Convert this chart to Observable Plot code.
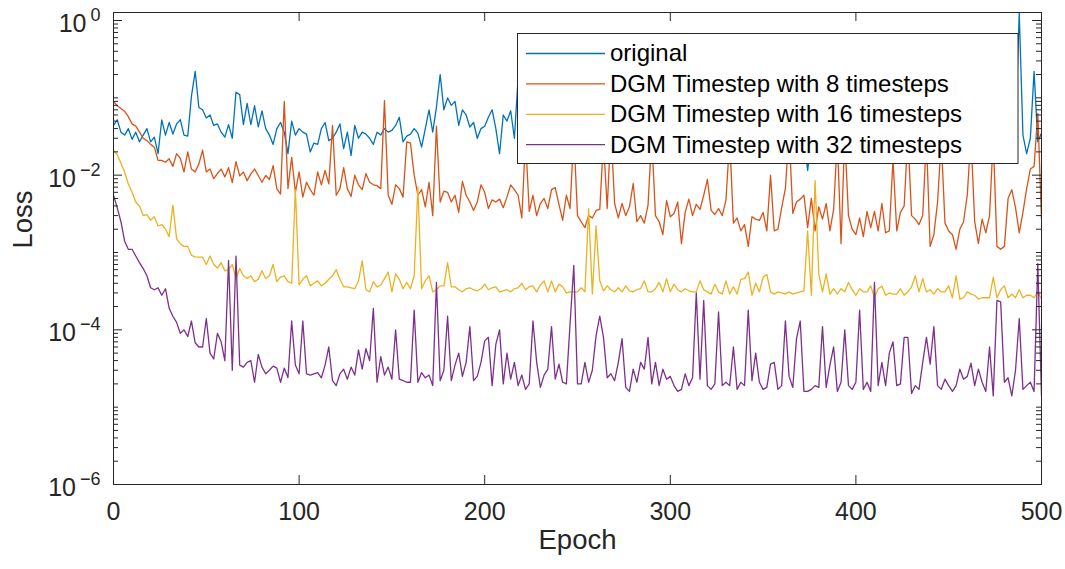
<!DOCTYPE html>
<html>
<head>
<meta charset="utf-8">
<script src="https://cdn.jsdelivr.net/npm/d3@7"></script>
<script src="https://cdn.jsdelivr.net/npm/@observablehq/plot@0.6"></script>
<style>
  html, body { margin: 0; padding: 0; background: #fff; }
  #chart { width: 1065px; height: 569px; }
</style>
</head>
<body>
<div id="chart"></div>
<script>
// ---------- data ----------
const epochs = d3.range(0, 501, 2); // 0,2,...,500

const seriesNames = [
  "original",
  "DGM Timestep with 8 timesteps",
  "DGM Timestep with 16 timesteps",
  "DGM Timestep with 32 timesteps"
];
const seriesColors = ["#0072BD", "#D95319", "#EDB120", "#7E2F8E"];

const xTickValues = [0, 100, 200, 300, 400, 500];
const yTickValues = [1e-6, 1e-4, 1e-2, 1e0];
const yTickExponents = ["\u22126", "\u22124", "\u22122", "0"];

// "original": the part hidden behind the legend box is not readable -> null
const originalLoss = [
  0.044,0.052,0.036,0.033,0.040,0.029,0.036,0.027,0.033,0.040,
  0.027,0.031,0.019,0.052,0.033,0.048,0.034,0.046,0.052,0.033,
  0.032,0.105,0.22,0.075,0.070,0.055,0.060,0.044,0.046,0.036,
  0.031,0.045,0.030,0.118,0.110,0.045,0.085,0.045,0.079,0.042,
  0.068,0.040,0.033,0.025,0.040,0.048,0.036,0.019,0.050,0.033,
  0.040,0.036,0.034,0.020,0.026,0.025,0.040,0.048,0.028,0.030,
  0.036,0.046,0.022,0.036,0.018,0.044,0.030,0.036,0.034,0.030,
  0.025,0.036,0.033,0.040,0.036,0.038,0.044,0.056,0.027,0.032,
  0.034,0.040,0.035,0.023,0.040,0.070,0.036,0.076,0.20,0.070,
  0.100,0.080,0.090,0.044,0.070,0.060,0.042,0.048,0.030,0.040,
  0.043,0.056,0.070,0.040,0.019,0.060,0.050,0.068,0.030,0.18,
  ...Array(76).fill(null),
  0.03,0.0115,0.03,
  ...Array(54).fill(null),
  0.04,1.25,0.033,0.019,0.030,0.22,0.027,0.035
];

const dgm8Loss = [
  0.090,0.079,0.073,0.067,0.057,0.046,0.043,0.036,0.030,0.028,
  0.025,0.023,0.0155,0.0155,0.0147,0.0163,0.013,0.019,0.0165,0.011,
  0.020,0.012,0.011,0.014,0.021,0.011,0.012,0.009,0.0105,0.012,
  0.0095,0.0125,0.008,0.015,0.0098,0.011,0.0085,0.0104,0.012,0.0099,
  0.0081,0.0099,0.0088,0.0133,0.0067,0.0057,0.090,0.0067,0.017,0.006,
  0.011,0.0052,0.0081,0.0065,0.0055,0.011,0.0075,0.0115,0.0077,0.044,
  0.0055,0.0067,0.0125,0.0067,0.0053,0.010,0.0075,0.0065,0.0105,0.0081,
  0.0075,0.0073,0.0067,0.092,0.0055,0.0042,0.0075,0.0067,0.0052,0.027,
  0.026,0.010,0.0055,0.0065,0.0039,0.0081,0.003,0.043,0.0045,0.0062,
  0.006,0.0045,0.0055,0.0033,0.0083,0.0055,0.0045,0.0035,0.0045,0.0075,
  0.006,0.0037,0.0048,0.0045,0.0049,0.0038,0.0052,0.0075,0.0065,0.0055,
  0.0028,0.030,0.0034,0.0055,0.003,0.0043,0.005,0.0037,0.0065,0.0069,
  0.0042,0.0026,0.0055,0.0037,0.035,0.003,0.0025,0.0021,0.003,0.0028,
  0.0035,0.0036,0.028,0.0037,0.040,0.0043,0.0028,0.0043,0.003,0.0039,
  0.0078,0.0025,0.003,0.0024,0.0041,0.032,0.003,0.0025,0.0017,0.0047,
  0.0029,0.0032,0.0045,0.0013,0.0033,0.0049,0.003,0.0042,0.0036,0.0055,
  0.0088,0.0035,0.0031,0.0037,0.003,0.0048,0.030,0.0024,0.0028,0.0019,
  0.0023,0.0012,0.0029,0.0027,0.0026,0.0033,0.0019,0.010,0.0019,0.002,
  0.0038,0.0067,0.036,0.0032,0.0045,0.0049,0.0055,0.0021,0.005,0.0019,
  0.0039,0.0027,0.0043,0.0019,0.0036,0.030,0.0013,0.033,0.003,0.002,
  0.0017,0.0028,0.0016,0.0034,0.0021,0.0034,0.0019,0.0043,0.0018,0.0019,
  0.016,0.0019,0.0033,0.004,0.034,0.003,0.0027,0.0023,0.003,0.030,
  0.0012,0.0017,0.0045,0.028,0.0024,0.0019,0.0017,0.0011,0.002,0.0025,
  0.0055,0.032,0.0025,0.0013,0.0027,0.0018,0.003,0.030,0.0012,0.0011,
  0.0012,0.005,0.0065,0.0038,0.0018,0.0033,0.0067,0.012,0.013,0.063,
  0.0027
];

const dgm16Loss = [
  0.021,0.0185,0.0143,0.011,0.0077,0.006,0.0045,0.004,0.003,0.0031,
  0.0026,0.0029,0.0022,0.0023,0.002,0.0016,0.0041,0.0015,0.0013,0.0012,
  0.0012,0.00092,0.00088,0.00087,0.00087,0.0007,0.0009,0.0007,0.00063,0.00074,
  0.00058,0.0006,0.0007,0.00046,0.00062,0.0005,0.00046,0.0005,0.00042,0.00045,
  0.00058,0.00046,0.0005,0.0007,0.00042,0.00048,0.0005,0.00042,0.0004,0.0065,
  0.00038,0.00045,0.0005,0.00037,0.0004,0.00043,0.00037,0.0004,0.00045,0.0005,
  0.0006,0.00045,0.00036,0.00036,0.00035,0.00034,0.00043,0.00078,0.00033,0.00031,
  0.00042,0.00036,0.00038,0.00046,0.00056,0.00031,0.00053,0.00045,0.00034,0.00041,
  0.00034,0.0005,0.007,0.00034,0.00043,0.0005,0.00031,0.00033,0.00037,0.00037,
  0.00074,0.00036,0.00036,0.00033,0.00031,0.00034,0.00035,0.00033,0.00032,0.00034,
  0.00039,0.00033,0.00035,0.00036,0.00031,0.00032,0.00033,0.00031,0.00034,0.00035,
  0.0004,0.00033,0.00036,0.00037,0.00031,0.00038,0.00043,0.00031,0.00043,0.00031,
  0.00039,0.00036,0.0003,0.00031,0.00031,0.00031,0.00035,0.00031,0.0037,0.00029,
  0.0022,0.00043,0.00032,0.00037,0.00033,0.00031,0.00035,0.00031,0.00037,0.00032,
  0.00031,0.00033,0.00034,0.00043,0.00031,0.00031,0.00034,0.00041,0.00031,0.00046,
  0.00031,0.00039,0.00033,0.00031,0.00034,0.00032,0.00031,0.00031,0.00043,0.00033,
  0.00031,0.00029,0.00039,0.00031,0.00029,0.00043,0.00029,0.00036,0.00029,0.00045,
  0.00046,0.00056,0.00028,0.0004,0.00031,0.00048,0.00052,0.00031,0.00029,0.00031,
  0.0003,0.00029,0.00031,0.00029,0.0003,0.00031,0.00032,0.0019,0.00028,0.0085,
  0.00053,0.00031,0.00053,0.00029,0.00034,0.00029,0.00034,0.00031,0.00041,0.00033,
  0.00028,0.00034,0.00031,0.00031,0.00037,0.00026,0.00034,0.00037,0.00028,0.0003,
  0.00029,0.00029,0.00034,0.00028,0.00031,0.00036,0.0005,0.00031,0.00046,0.00031,
  0.00033,0.00029,0.00034,0.00031,0.00031,0.00037,0.00026,0.0005,0.00025,0.00026,
  0.00031,0.00029,0.00028,0.00025,0.00026,0.00026,0.00026,0.00048,0.00026,0.00033,
  0.00037,0.00026,0.00029,0.00026,0.00033,0.00026,0.00028,0.00028,0.00026,0.00031,
  0.00025
];

const dgm32Loss = [
  0.0055,0.0038,0.0025,0.0014,0.0011,0.0011,0.0009,0.00074,0.00062,0.0005,
  0.00035,0.00033,0.00035,0.00028,0.00034,0.00019,0.00015,0.000125,0.00009,0.0001,
  0.000082,0.00013,0.000068,0.00006,0.00006,0.00014,0.00005,0.000042,0.00009,0.00007,
  0.00004,0.00079,0.00003,0.0009,0.000035,0.000033,0.000038,0.00004,0.000021,0.000048,
  0.000033,0.000027,0.00003,0.000034,0.000032,0.000021,0.000032,0.000024,0.00013,0.000035,
  0.000027,0.00013,0.000027,0.000026,0.000027,0.000028,0.000024,0.000035,0.00006,0.000022,
  0.000019,0.000027,0.000031,0.000023,0.000033,0.000026,0.000055,0.000031,0.000057,0.00004,
  0.00019,0.000021,0.000045,0.000026,0.000033,0.000023,0.0001,0.000023,0.000022,0.000021,
  0.000021,0.00018,0.000021,0.000028,0.000024,0.000026,0.000019,0.00041,0.000022,0.00003,
  0.00015,0.000022,0.000035,0.00005,0.000025,0.000038,0.00011,0.000022,0.000025,0.000038,
  0.000072,0.00008,0.000019,0.000065,0.0001,0.00002,0.00005,0.000023,0.000038,0.000019,
  0.000026,0.000017,0.00002,0.00013,0.000038,0.000018,0.000026,0.000031,0.00011,0.000023,
  0.000036,0.000021,0.00002,0.00012,0.00068,0.00002,0.00002,0.000038,0.000021,0.00003,
  0.000084,0.00015,0.00008,0.000024,0.000027,0.000022,0.000038,0.000077,0.000018,0.000016,
  0.000031,0.000021,0.000038,0.000031,0.00008,0.00002,0.000038,0.000019,0.000031,0.000023,
  0.000025,0.000019,0.000016,0.000017,0.000027,0.000019,0.000024,0.0003,0.000023,0.00024,
  0.000019,0.000017,0.00002,0.00017,0.000019,0.000021,0.000019,0.00006,0.000017,0.000021,
  0.000019,0.00018,0.000022,0.00005,0.000021,0.000017,0.000018,0.000036,0.000038,0.000017,
  0.000019,0.00013,0.000025,0.000018,0.000077,0.00013,0.000016,0.000016,0.000017,0.000019,
  0.000018,0.00011,0.000018,0.000035,0.00006,0.000016,0.000021,0.0001,0.000019,0.000017,
  0.000021,0.00018,0.000017,0.000021,0.000016,0.00041,0.000019,0.000038,0.000019,0.00005,
  0.00007,0.000019,0.00002,0.00008,0.00008,0.000015,0.000019,0.000017,0.000038,0.00008,
  0.000036,0.00011,0.000019,0.000017,0.000023,0.000019,0.000016,0.000019,0.000031,0.000023,
  0.000025,0.000037,0.000019,0.000031,0.000021,0.000016,0.00006,0.000014,0.00024,0.00023,
  0.000021,0.000024,0.000014,0.00003,0.00014,0.000017,0.000019,0.000021,0.000016,0.00072,
  0.000014
];

// ---------- build tables ----------
const seriesValues = [originalLoss, dgm8Loss, dgm16Loss, dgm32Loss];
const tables = seriesValues.map(vals =>
  epochs.map((e, i) => ({epoch: e, loss: vals[i] == null ? NaN : vals[i]}))
);

// minor log ticks (axis decoration)
const minorTicks = [];
for (let d = -6; d <= -1; d++) {
  for (let k = 2; k <= 9; k++) minorTicks.push(k * Math.pow(10, d));
  if (d % 2 !== 0) minorTicks.push(Math.pow(10, d));
}

// ---------- layout ----------
const W = 1065, H = 569;
const mT = 12, mB = 85, mL = 113, mR = 24;
const fw = W - mL - mR, fh = H - mT - mB;
const ink = "#262626";
const majorLen = 9, minorLen = 5;

const plot = Plot.plot({
  width: W, height: H,
  marginTop: mT, marginBottom: mB, marginLeft: mL, marginRight: mR,
  style: {
    fontFamily: "'Liberation Sans', Arial, Helvetica, sans-serif",
    color: ink, background: "white", overflow: "visible"
  },
  x: {domain: [0, 500]},
  y: {type: "log", domain: [1e-6, 1.269]},
  marks: [
    ...tables.map((t, i) => Plot.line(t, {
      x: "epoch", y: "loss", stroke: seriesColors[i], strokeWidth: 1.3, clip: true
    })),
    Plot.frame({stroke: ink, strokeWidth: 1}),
    // inward ticks on all four sides
    Plot.ruleX(xTickValues, {stroke: ink, insetTop: fh - majorLen}),
    Plot.ruleX(xTickValues, {stroke: ink, insetBottom: fh - majorLen}),
    Plot.ruleY(yTickValues, {stroke: ink, insetRight: fw - majorLen}),
    Plot.ruleY(yTickValues, {stroke: ink, insetLeft: fw - majorLen}),
    Plot.ruleY(minorTicks, {stroke: ink, insetRight: fw - minorLen}),
    Plot.ruleY(minorTicks, {stroke: ink, insetLeft: fw - minorLen}),
    Plot.axisX(xTickValues, {tickSize: 0, tickPadding: 18, fontSize: 25, label: null, fill: ink}),
    Plot.axisY(yTickValues, {
      tickSize: 0, tickPadding: 13, fontSize: 25, label: null, fill: ink,
      tickFormat: d => "10^" + yTickExponents[yTickValues.indexOf(d)]
    }),
    Plot.text(["Epoch"], {text: d => d, frameAnchor: "bottom", dy: 64, fontSize: 27.5, fill: ink}),
    Plot.text(["Loss"], {text: d => d, frameAnchor: "left", dx: -90, rotate: -90, fontSize: 27.5, fill: ink})
  ]
});

document.getElementById("chart").appendChild(plot);

// ---------- y tick labels as 10 with superscript exponent ----------
const svgNS = "http://www.w3.org/2000/svg";
plot.querySelectorAll('g[aria-label="y-axis tick label"] text').forEach(t => {
  const s = t.textContent;
  if (!s.startsWith("10^")) return;
  const exp = s.slice(3);
  t.textContent = "10";
  t.removeAttribute("dy");
  t.setAttribute("y", "11.5");
  const sup = document.createElementNS(svgNS, "tspan");
  sup.setAttribute("dx", "4");
  sup.setAttribute("dy", "-11");
  sup.setAttribute("font-size", "18");
  sup.textContent = exp;
  t.appendChild(sup);
});

// ---------- legend box (inside the axes, top right) ----------
const leg = d3.select(plot).append("g")
  .attr("font-size", 24)
  .attr("text-anchor", "start")
  .style("text-anchor", "start")
  .attr("font-family", "'Liberation Sans', Arial, Helvetica, sans-serif");
leg.append("rect")
  .attr("x", 517.5).attr("y", 33.5).attr("width", 500.5).attr("height", 130)
  .attr("fill", "white").style("fill", "white")
  .attr("stroke", ink).attr("stroke-width", 1);
seriesNames.forEach((name, i) => {
  const yy = 53.5 + i * 30.4;
  leg.append("line")
    .attr("x1", 526).attr("x2", 605).attr("y1", yy).attr("y2", yy)
    .attr("stroke", seriesColors[i]).attr("stroke-width", 1.3);
  leg.append("text")
    .attr("x", 610).attr("y", yy + 7.8)
    .attr("fill", "#000").style("text-anchor", "start")
    .text(name);
});
</script>
</body>
</html>
